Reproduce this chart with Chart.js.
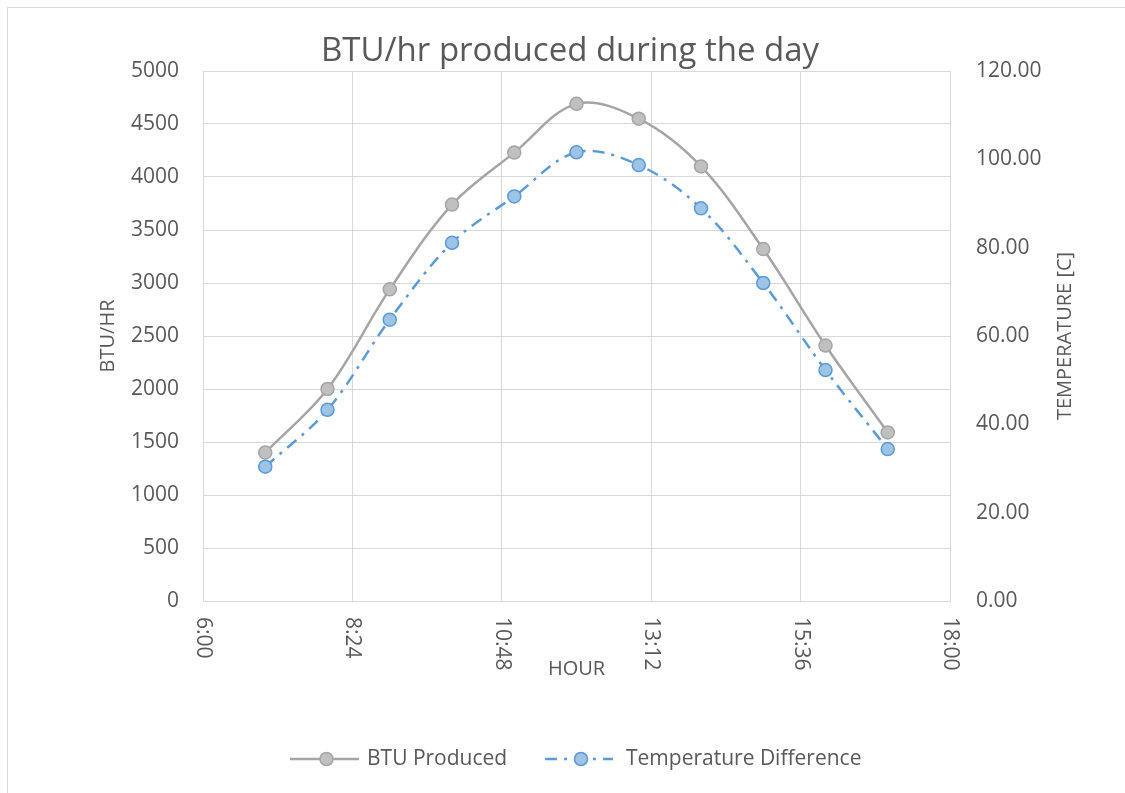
<!DOCTYPE html>
<html>
<head>
<meta charset="utf-8">
<script src="https://cdn.jsdelivr.net/npm/chart.js@4.4.1/dist/chart.umd.min.js"></script>
<style>
  html, body { margin: 0; padding: 0; background: #ffffff; }
  #wrap { width: 1125px; height: 793px; position: relative; }
</style>
</head>
<body>
<div id="wrap"><canvas id="grafico" width="1125" height="793"></canvas></div>
<script>
// Ore della giornata (ore intere) e valori
const ore = [7, 8, 9, 10, 11, 12, 13, 14, 15, 16, 17];
const btuProdotti = [1400, 2000, 2940, 3740, 4230, 4690, 4550, 4100, 3320, 2410, 1590];
const diffTemperatura = [30.4, 43.3, 63.7, 81.1, 91.6, 101.6, 98.7, 88.9, 72.0, 52.3, 34.4];

const titolo = 'BTU/hr produced during the day';
const titoloY = 'BTU/HR';
const titoloY1 = 'TEMPERATURE [C]';
const titoloX = 'HOUR';
const nomiSerie = ['BTU Produced', 'Temperature Difference'];

const GRIGIO = '#a5a5a5';
const GRIGIO_PUNTO = '#c0c0c0';
const BLU = '#5b9bd5';
const BLU_PUNTO = '#9dc3e6';
const TESTO = '#595959';
const GRIGLIA = '#d9d9d9';
const FONT = '"Open Sans", "Noto Sans", sans-serif';
const TRATTEGGIO = [12, 7, 3, 7];

// minuti -> "h:mm"
function formatoOra(min) {
    const h = Math.floor(min / 60);
    const m = Math.round(min - h * 60);
    return h + ':' + String(m).padStart(2, '0');
}

// Disegna un elemento della legenda (linea + marcatore)
function voceLegenda(ctx, x0, x1, y, colore, riempimento, dash) {
    ctx.save();
    ctx.strokeStyle = colore;
    ctx.lineWidth = 2.5;
    ctx.setLineDash(dash || []);
    ctx.beginPath();
    ctx.moveTo(x0, y);
    ctx.lineTo(x1, y);
    ctx.stroke();
    ctx.setLineDash([]);
    ctx.beginPath();
    ctx.arc((x0 + x1) / 2 + 2, y, 6.5, 0, Math.PI * 2);
    ctx.fillStyle = riempimento;
    ctx.fill();
    ctx.lineWidth = 1.5;
    ctx.stroke();
    ctx.restore();
}

// Plugin per titolo, etichette ruotate, titoli assi, legenda e cornice
const decorazioni = {
    id: 'decorazioni',
    afterDraw(chart) {
        const { ctx, chartArea: a, scales } = chart;
        ctx.save();

        // cornice esterna
        ctx.strokeStyle = GRIGLIA;
        ctx.lineWidth = 1;
        ctx.beginPath();
        ctx.moveTo(7.5, 793);
        ctx.lineTo(7.5, 7.5);
        ctx.lineTo(1125, 7.5);
        ctx.stroke();

        ctx.fillStyle = TESTO;

        // titolo
        ctx.font = '33px ' + FONT;
        ctx.textAlign = 'center';
        ctx.textBaseline = 'alphabetic';
        ctx.fillText(titolo, 570, 61);

        // etichette asse x ruotate di 90 gradi
        ctx.font = '21px ' + FONT;
        scales.x.ticks.forEach(t => {
            const px = scales.x.getPixelForValue(t.value);
            ctx.save();
            ctx.translate(px, a.bottom + 16);
            ctx.rotate(Math.PI / 2);
            ctx.textAlign = 'left';
            ctx.textBaseline = 'middle';
            ctx.fillText(formatoOra(t.value), 0, 0);
            ctx.restore();
        });

        // titoli degli assi
        ctx.font = '20px ' + FONT;
        ctx.textAlign = 'center';
        ctx.textBaseline = 'middle';
        ctx.fillText(titoloX, (a.left + a.right) / 2, 669);

        const cy = (a.top + a.bottom) / 2;
        ctx.save();
        ctx.translate(108, cy);
        ctx.rotate(-Math.PI / 2);
        ctx.fillText(titoloY, 0, 0);
        ctx.restore();

        ctx.save();
        ctx.translate(1065, cy);
        ctx.rotate(-Math.PI / 2);
        ctx.fillText(titoloY1, 0, 0);
        ctx.restore();

        // legenda
        const yl = 759;
        voceLegenda(ctx, 290, 359, yl, GRIGIO, GRIGIO_PUNTO, null);
        voceLegenda(ctx, 545, 613, yl, BLU, BLU_PUNTO, TRATTEGGIO);
        ctx.fillStyle = TESTO;
        ctx.font = '21px ' + FONT;
        ctx.textAlign = 'left';
        ctx.textBaseline = 'middle';
        ctx.fillText(nomiSerie[0], 367, yl);
        ctx.fillText(nomiSerie[1], 626, yl);

        ctx.restore();
    }
};

const minuti = ore.map(h => h * 60);

new Chart(document.getElementById('grafico').getContext('2d'), {
    type: 'line',
    data: {
        datasets: [
            {
                label: nomiSerie[0],
                data: minuti.map((x, i) => ({ x: x, y: btuProdotti[i] })),
                yAxisID: 'y',
                borderColor: GRIGIO,
                borderWidth: 2.5,
                tension: 0.35,
                pointRadius: 6.5,
                pointHoverRadius: 6.5,
                pointBorderWidth: 1.5,
                pointBackgroundColor: GRIGIO_PUNTO,
                pointBorderColor: GRIGIO,
                fill: false,
                order: 1
            },
            {
                label: nomiSerie[1],
                data: minuti.map((x, i) => ({ x: x, y: diffTemperatura[i] })),
                yAxisID: 'y1',
                borderColor: BLU,
                borderWidth: 2.5,
                borderDash: TRATTEGGIO,
                tension: 0.35,
                pointRadius: 6.5,
                pointHoverRadius: 6.5,
                pointBorderWidth: 1.5,
                pointBackgroundColor: BLU_PUNTO,
                pointBorderColor: BLU,
                fill: false,
                order: 0
            }
        ]
    },
    options: {
        responsive: false,
        animation: false,
        devicePixelRatio: 1,
        layout: { padding: { top: 71, left: 0, right: 0, bottom: 0 } },
        plugins: {
            legend: { display: false },
            title: { display: false },
            tooltip: { enabled: false }
        },
        scales: {
            x: {
                type: 'linear',
                min: 360,
                max: 1080,
                ticks: { display: false, stepSize: 144 },
                grid: { color: GRIGLIA, drawTicks: false },
                border: { color: GRIGLIA },
                afterFit(s) { s.height = 192; }
            },
            y: {
                position: 'left',
                min: 0,
                max: 5000,
                ticks: {
                    stepSize: 500,
                    color: TESTO,
                    font: { family: FONT, size: 21 },
                    padding: 24,
                    callback: v => String(v)
                },
                grid: { color: GRIGLIA, drawTicks: false },
                border: { color: GRIGLIA },
                afterFit(s) { s.width = 203; }
            },
            y1: {
                position: 'right',
                min: 0,
                max: 120,
                ticks: {
                    stepSize: 20,
                    color: TESTO,
                    font: { family: FONT, size: 21 },
                    padding: 26,
                    callback: v => Number(v).toFixed(2)
                },
                grid: { display: false, drawTicks: false },
                border: { display: false },
                afterFit(s) { s.width = 175; }
            }
        }
    },
    plugins: [decorazioni]
});
</script>
</body>
</html>
